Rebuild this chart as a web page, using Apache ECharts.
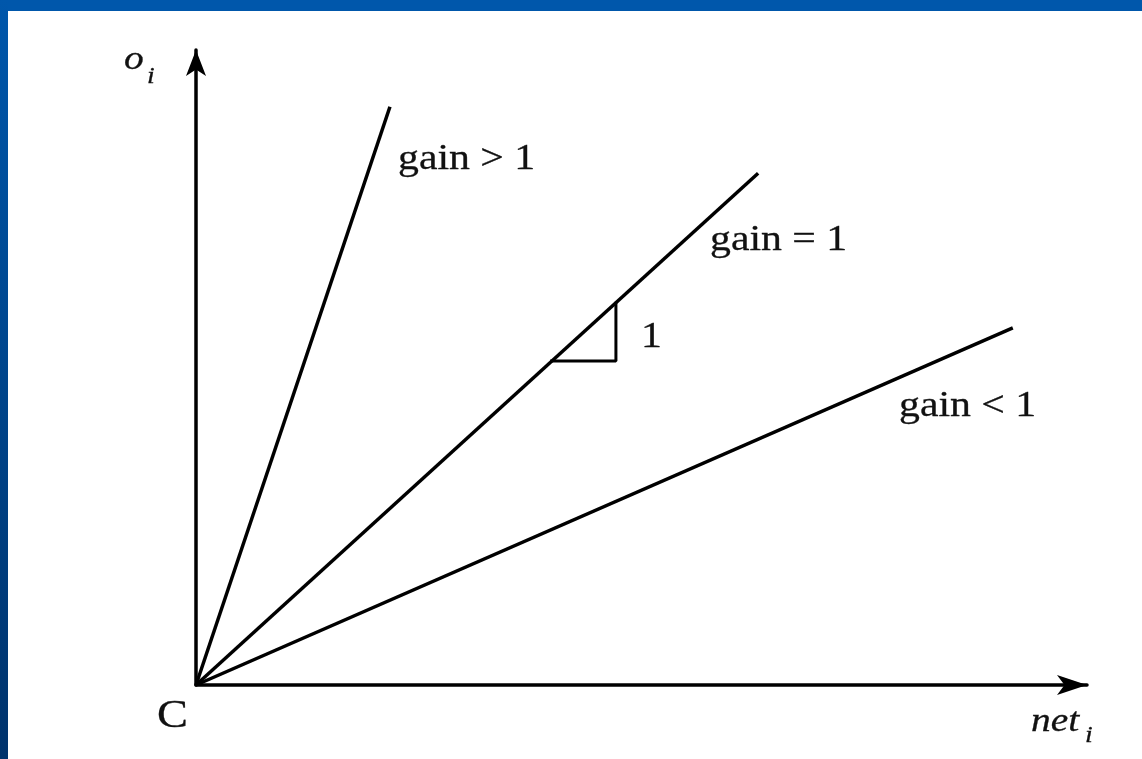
<!DOCTYPE html>
<html lang="en">
<head>
<meta charset="UTF-8">
<title>gain lines</title>
<script src="https://cdn.jsdelivr.net/npm/echarts@6/dist/echarts.min.js"></script>
</head>
<body style="margin: 0; background: #fff">
<div id="main" style="width: 1142px; height: 759px"></div>
<script>
    // data (x = net_i, y = o_i)
    let gainAbove = [[0, 0], [3.45, 11.3]];
    let gainOne = [[0, 0], [10, 10]];
    let gainBelow = [[0, 0], [14.53, 6.98]];
    let slopeMark = [[6.3, 6.33], [7.47, 6.33], [7.47, 7.49]];
    let xMax = 15.85, yMax = 12.41;

    let serif = '"Liberation Serif", "DejaVu Serif", serif';
    let stretch = 1.16;

    function txt(x, y, s, size, italic) {
        return {
            type: 'text', x: x, y: y, scaleX: stretch,
            style: {
                text: s, fill: '#111', stroke: '#111', lineWidth: 0.3,
                font: (italic ? 'italic ' : '') + size + 'px ' + serif,
                verticalAlign: 'middle', align: 'left'
            }
        };
    }

    function lineSeries(data, w) {
        return {
            type: 'line', data: data, symbol: 'none', animation: false,
            lineStyle: {color: '#000', width: w}
        };
    }

    let chart = echarts.init(document.getElementById('main'));
    chart.setOption({
        animation: false,
        grid: {left: 196, right: 55, top: 50, bottom: 74},
        xAxis: {
            type: 'value', min: 0, max: xMax,
            axisLine: {lineStyle: {color: '#000', width: 3.5}, symbol: ['none', 'arrow'], symbolSize: [15, 30]},
            axisTick: {show: false}, axisLabel: {show: false}, splitLine: {show: false}
        },
        yAxis: {
            type: 'value', min: 0, max: yMax,
            axisLine: {lineStyle: {color: '#000', width: 3.5}, symbol: ['none', 'arrow'], symbolSize: [15, 26]},
            axisTick: {show: false}, axisLabel: {show: false}, splitLine: {show: false}
        },
        series: [
            lineSeries(gainAbove, 3.5),
            lineSeries(gainOne, 3.5),
            lineSeries(gainBelow, 3.5),
            lineSeries(slopeMark, 3)
        ],
        graphic: [
            // blue slide frame
            {type: 'rect', shape: {x: 0, y: 0, width: 1142, height: 11}, style: {fill: '#0057ab'}},
            {
                type: 'rect', shape: {x: 0, y: 0, width: 8, height: 759},
                style: {
                    fill: new echarts.graphic.LinearGradient(0, 0, 0, 1, [
                        {offset: 0, color: '#0057ab'},
                        {offset: 1, color: '#00336c'}
                    ])
                }
            },
            txt(398, 160, 'gain > 1', 36),
            txt(710, 241, 'gain = 1', 36),
            txt(899, 407, 'gain < 1', 36),
            txt(641, 338, '1', 36),
            txt(157, 716, 'C', 40),
            txt(124, 60, 'o', 34, true),
            txt(147, 77, 'i', 24, true),
            txt(1031, 722, 'net', 34, true),
            txt(1085, 736, 'i', 24, true)
        ]
    });
</script>
</body>
</html>
